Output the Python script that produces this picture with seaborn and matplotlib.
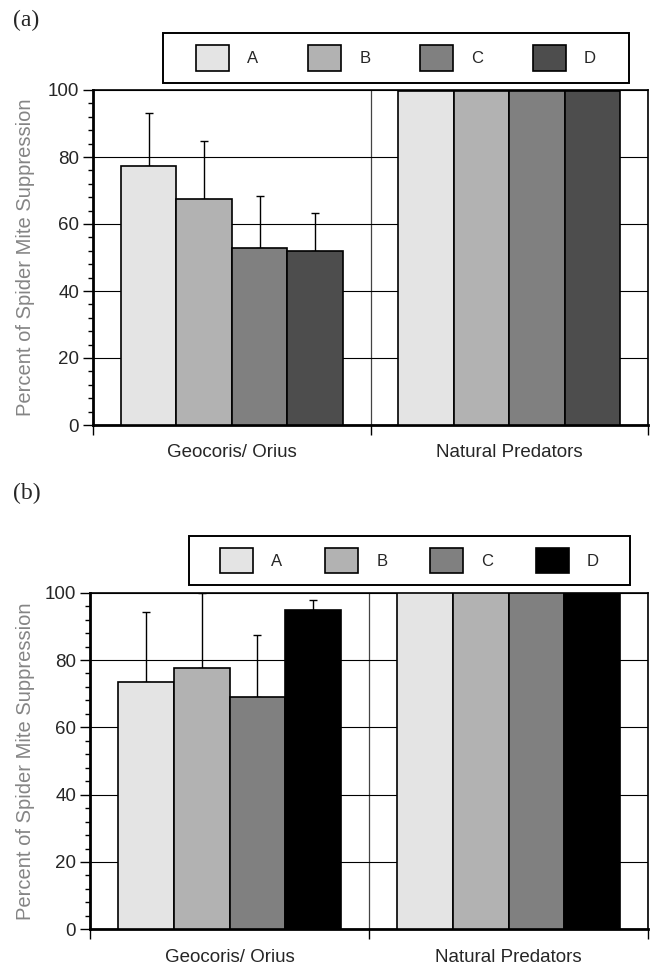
import numpy as np
import pandas as pd
import seaborn as sns
import matplotlib.pyplot as plt
from matplotlib.patches import Rectangle
from matplotlib.ticker import MultipleLocator, FixedLocator

# Data
categories = ["Geocoris/ Orius", "Natural Predators"]
treatments = ["A", "B", "C", "D"]

# panel (a): mean percent suppression and upper error, per treatment
a_values = {"A": [77.4, 99.8], "B": [67.5, 99.8], "C": [52.7, 99.8], "D": [51.9, 99.8]}
a_errors = {"A": [15.6, 0.2], "B": [17.3, 0.2], "C": [15.7, 0.2], "D": [11.3, 0.2]}

# panel (b)
b_values = {"A": [73.5, 99.8], "B": [77.7, 99.8], "C": [69.1, 99.9], "D": [94.8, 99.9]}
b_errors = {"A": [20.9, 0.2], "B": [22.3, 0.2], "C": [18.2, 0.1], "D": [3.1, 0.1]}

colors_a = ["#e4e4e4", "#b2b2b2", "#808080", "#4d4d4d"]
colors_b = ["#e4e4e4", "#b2b2b2", "#808080", "#000000"]

sns.set_theme(style="white")
plt.rcParams["font.family"] = ["Liberation Sans", "DejaVu Sans"]

W, H = 654, 965


def to_long(values):
    rows = []
    for t in treatments:
        for c, v in zip(categories, values[t]):
            rows.append({"category": c, "treatment": t, "value": v})
    return pd.DataFrame(rows)


def draw_panel(fig, rect, values, errors, colors, legend_box, colspace, ylabel_x):
    ax = fig.add_axes(rect)
    df = to_long(values)
    sns.barplot(data=df, x="category", y="value", hue="treatment",
                order=categories, hue_order=treatments, palette=colors,
                edgecolor="black", linewidth=1.2, saturation=1, gap=0,
                errorbar=None, ax=ax, zorder=3)

    # one-sided error bars on top of each bar
    for cont, t in zip(ax.containers, treatments):
        xs = [b.get_x() + b.get_width() / 2 for b in cont]
        hs = [b.get_height() for b in cont]
        err = np.array(errors[t])
        ax.errorbar(xs, hs, yerr=[np.zeros_like(err), err], fmt="none",
                    ecolor="black", elinewidth=1.0, capsize=3, capthick=1.0,
                    zorder=2)

    ax.set_ylim(0, 100)
    ax.set_xlim(-0.5, 1.5)
    ax.yaxis.set_major_locator(MultipleLocator(20))
    ax.yaxis.set_minor_locator(MultipleLocator(4))
    ax.tick_params(axis="y", which="major", direction="out", length=7,
                   width=1.0, color="black", labelsize=13.5, pad=3, left=True)
    ax.tick_params(axis="y", which="minor", direction="out", length=3.5,
                   width=1.0, color="black", left=True)

    # category boundaries as major ticks, labels on minor ticks
    ax.xaxis.set_major_locator(FixedLocator([-0.5, 0.5, 1.5]))
    ax.xaxis.set_minor_locator(FixedLocator([0, 1]))
    ax.set_xticklabels([], minor=False)
    ax.set_xticklabels(categories, minor=True)
    ax.tick_params(axis="x", which="major", direction="out", length=7,
                   width=1.0, color="black", bottom=True)
    ax.tick_params(axis="x", which="minor", length=0, labelsize=13.5, pad=14)

    ax.grid(True, axis="y", which="major", color="black", linewidth=0.8)
    ax.grid(True, axis="x", which="major", color="#444444", linewidth=0.9)
    ax.set_axisbelow(True)

    for side in ["top", "right"]:
        ax.spines[side].set_color("black")
        ax.spines[side].set_linewidth(1.2)
    for side in ["left", "bottom"]:
        ax.spines[side].set_color("black")
        ax.spines[side].set_linewidth(2.0)

    ax.set_xlabel("")
    ax.set_ylabel("Percent of Spider Mite Suppression", fontsize=14.5,
                  color="#858585")
    ax.yaxis.set_label_coords(ylabel_x, 0.5)

    # legend without its own frame, boxed by a separate rectangle
    x0, y0, w, h = legend_box
    sns.move_legend(ax, loc="center",
                    bbox_to_anchor=((x0 + w / 2) / W, 1 - (y0 + h / 2) / H),
                    bbox_transform=fig.transFigure, ncol=4, title=None,
                    frameon=False, fontsize=12, handlelength=2.0,
                    handleheight=2.0, handletextpad=1.08,
                    columnspacing=colspace, borderpad=0.3)
    leg = ax.get_legend()
    for hd in leg.legend_handles:
        hd.set_edgecolor("black")
        hd.set_linewidth(1.2)
    fig.add_artist(Rectangle((x0 / W, 1 - (y0 + h) / H), w / W, h / H,
                             transform=fig.transFigure, fill=False,
                             edgecolor="black", linewidth=1.4))
    return ax


fig = plt.figure(figsize=(W / 100, H / 100), dpi=100)

draw_panel(fig, [93 / W, 1 - 425 / H, 555 / W, 335 / H],
           a_values, a_errors, colors_a, (163, 33, 466, 50), 2.97, -0.104)
draw_panel(fig, [90 / W, 1 - 929.3 / H, 558 / W, 336.6 / H],
           b_values, b_errors, colors_b, (189, 536, 441, 49), 2.55, -0.098)

fig.text(13 / W, 1 - 20 / H, "(a)", fontsize=17, va="center", ha="left",
         family=["Liberation Serif", "DejaVu Serif"])
fig.text(13 / W, 1 - 493 / H, "(b)", fontsize=17, va="center", ha="left",
         family=["Liberation Serif", "DejaVu Serif"])

fig.savefig("out.png", dpi=100, facecolor="white")
